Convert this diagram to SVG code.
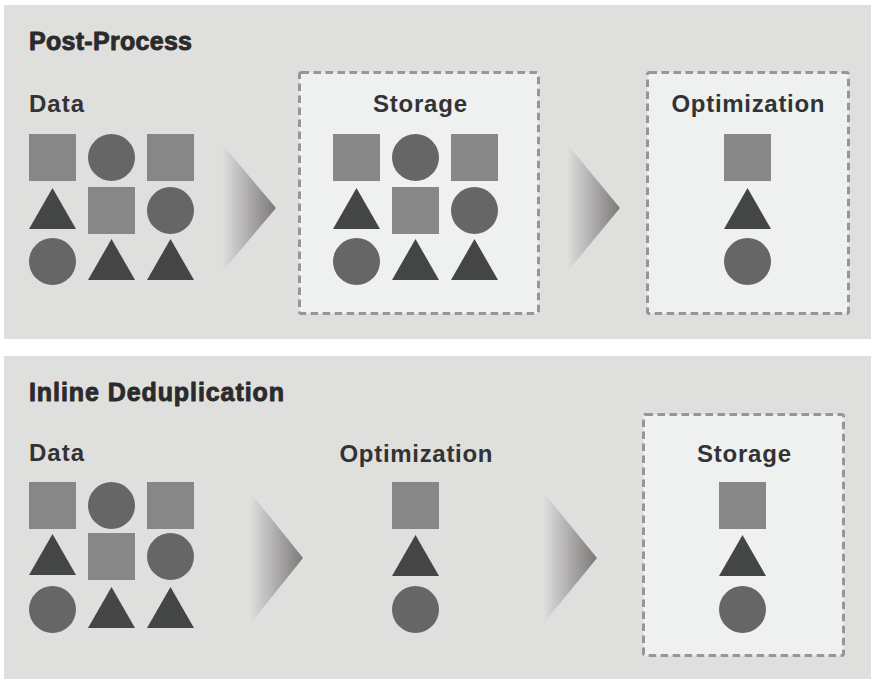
<svg xmlns="http://www.w3.org/2000/svg" width="871" height="679" viewBox="0 0 871 679">
<defs>
<style>
.panel{fill:#dfdfde}
.box{fill:#eff1f0;stroke:#969696;stroke-width:3;stroke-dasharray:7.5 4.5}
.sq{fill:#878787}
.ci{fill:#666666}
.tr{fill:#444645}
.title{font-family:"Liberation Sans",Arial,sans-serif;font-weight:900;font-size:25px;fill:#2b2b2b;stroke:#2b2b2b;stroke-width:0.9;stroke-linejoin:round}
.lbl{font-family:"Liberation Sans",Arial,sans-serif;font-weight:700;font-size:24px;fill:#333333}
.arrow{fill:url(#ag)}
</style>
<linearGradient id="ag" x1="0" y1="0" x2="1" y2="0">
<stop offset="0" stop-color="#dfdfde"/>
<stop offset="1" stop-color="#7c7878"/>
</linearGradient>
<rect id="S" class="sq" width="47" height="47"/>
<circle id="C" class="ci" cx="23.5" cy="23.5" r="23.5"/>
<polygon id="T" class="tr" points="0,42 23.5,1 47,42"/>
</defs>

<rect class="panel" x="4" y="5" width="867" height="334"/>
<rect class="panel" x="4" y="356" width="867" height="323"/>

<text class="title" x="29" y="49.5" textLength="163">Post-Process</text>
<text class="title" x="29" y="401" textLength="255">Inline Deduplication</text>

<g id="pp-data">
<text class="lbl" x="29" y="111.5" textLength="55">Data</text>
<use href="#S" x="29" y="134"/><use href="#C" x="88" y="134"/><use href="#S" x="147" y="134"/>
<use href="#T" x="29" y="187"/><use href="#S" x="88" y="187"/><use href="#C" x="147" y="187"/>
<use href="#C" x="29" y="238"/><use href="#T" x="88" y="238"/><use href="#T" x="147" y="238"/>
</g>

<g id="pp-storage">
<rect class="box" x="299.5" y="72.5" width="239" height="241" rx="2"/>
<text class="lbl" x="420" y="111.5" text-anchor="middle" textLength="94">Storage</text>
<use href="#S" x="333" y="134"/><use href="#C" x="392" y="134"/><use href="#S" x="451" y="134"/>
<use href="#T" x="333" y="187"/><use href="#S" x="392" y="187"/><use href="#C" x="451" y="187"/>
<use href="#C" x="333" y="238"/><use href="#T" x="392" y="238"/><use href="#T" x="451" y="238"/>
</g>

<g id="pp-optimization">
<rect class="box" x="647.5" y="72.5" width="201" height="241" rx="2"/>
<text class="lbl" x="748" y="111.5" text-anchor="middle" textLength="153">Optimization</text>
<use href="#S" x="724" y="134"/>
<use href="#T" x="724" y="187"/>
<use href="#C" x="724" y="238"/>
</g>

<g id="id-data">
<text class="lbl" x="29" y="460.5" textLength="55">Data</text>
<use href="#S" x="29" y="482"/><use href="#C" x="88" y="482"/><use href="#S" x="147" y="482"/>
<use href="#T" x="29" y="533"/><use href="#S" x="88" y="533"/><use href="#C" x="147" y="533"/>
<use href="#C" x="29" y="586"/><use href="#T" x="88" y="586"/><use href="#T" x="147" y="586"/>
</g>

<g id="id-optimization">
<text class="lbl" x="416" y="461.5" text-anchor="middle" textLength="153">Optimization</text>
<use href="#S" x="392" y="482"/>
<use href="#T" x="392" y="534"/>
<use href="#C" x="392" y="586"/>
</g>

<g id="id-storage">
<rect class="box" x="643.5" y="414.5" width="200" height="241" rx="2"/>
<text class="lbl" x="744" y="461.5" text-anchor="middle" textLength="94">Storage</text>
<use href="#S" x="719" y="482"/>
<use href="#T" x="719" y="534"/>
<use href="#C" x="719" y="586"/>
</g>

<g id="connectors">
<polygon class="arrow" points="222,144 276,208 222,272"/>
<polygon class="arrow" points="567,144 620,208 567,272"/>
<polygon class="arrow" points="250,492 303,558 250,624"/>
<polygon class="arrow" points="543,492 597,558 543,624"/>
</g>
</svg>
